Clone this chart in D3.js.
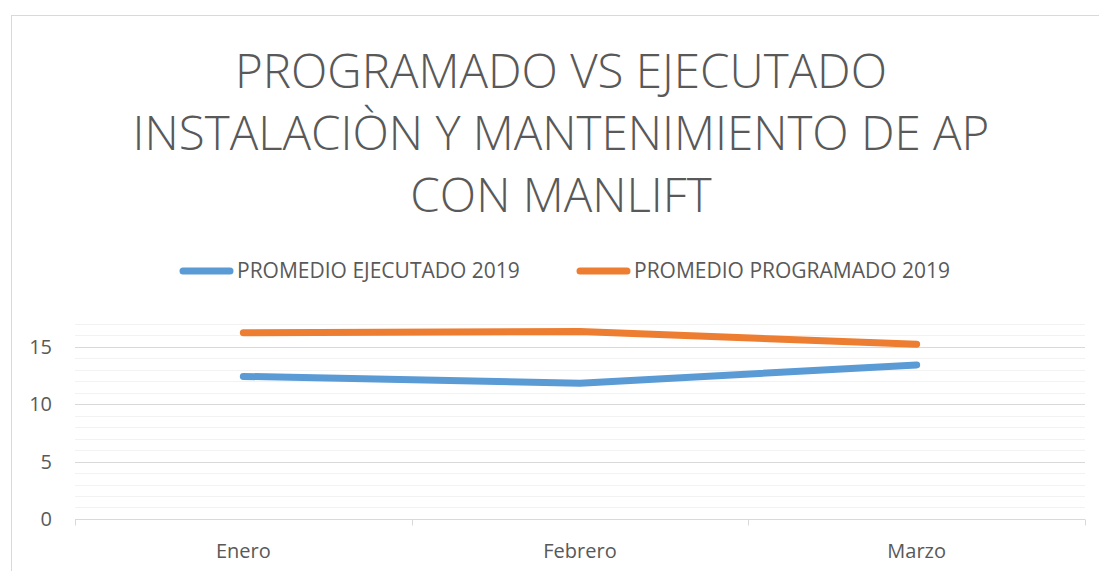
<!DOCTYPE html>
<html>
<head>
<meta charset="utf-8">
<script src="https://cdn.jsdelivr.net/npm/d3@7"></script>
<style>
  body { margin: 0; background: #fff; }
  text { font-family: "Open Sans", "Liberation Sans", sans-serif; fill: #595959; }
</style>
</head>
<body>
<div class="chart-box"></div>
<script>
// datos del grafico
var months = ["Enero", "Febrero", "Marzo"];
var ejecutado = [12.4, 11.8, 13.4];
var programado = [16.2, 16.3, 15.2];
var seriesNames = ["PROMEDIO EJECUTADO 2019", "PROMEDIO PROGRAMADO 2019"];
var titleLines = ["PROGRAMADO VS EJECUTADO", "INSTALACIÒN Y MANTENIMIENTO DE AP", "CON MANLIFT"];
var yTicks = [0, 5, 10, 15];

var width = 1099, height = 571;
var colors = ["#5B9BD5", "#ED7D31"];

var svg = d3.select(".chart-box").append("svg")
    .attr("width", width)
    .attr("height", height);

// marco
svg.append("rect")
    .attr("x", 11.5).attr("y", 15.5)
    .attr("width", 1100).attr("height", 600)
    .attr("fill", "none")
    .attr("stroke", "#d9d9d9");

// titulo
svg.append("g").selectAll("text")
  .data(titleLines)
  .enter().append("text")
    .attr("x", 561)
    .attr("y", function(d, i) { return 88 + i * 62; })
    .attr("text-anchor", "middle")
    .style("font-size", "47.5px")
    .style("font-weight", 300)
    .text(function(d) { return d; });

var x = d3.scaleBand().domain(months).range([75, 1085]);
var y = d3.scaleLinear().domain([0, 17]).range([519, 323.5]);

// lineas de cuadricula
var grid = svg.append("g");
grid.selectAll("line.minor")
  .data(d3.range(1, 18).filter(function(v) { return v % 5; }))
  .enter().append("line")
    .attr("x1", 75).attr("x2", 1085)
    .attr("y1", function(d) { return Math.round(y(d)) + 0.5; })
    .attr("y2", function(d) { return Math.round(y(d)) + 0.5; })
    .attr("stroke", "#f2f2f2");
grid.selectAll("line.major")
  .data(yTicks.slice(1))
  .enter().append("line")
    .attr("x1", 75).attr("x2", 1085)
    .attr("y1", function(d) { return Math.round(y(d)) + 0.5; })
    .attr("y2", function(d) { return Math.round(y(d)) + 0.5; })
    .attr("stroke", "#d9d9d9");

// eje x
var xAxis = svg.append("g")
    .attr("transform", "translate(0," + (Math.round(y(0)) + 0.5) + ")");
xAxis.append("line")
    .attr("x1", 75).attr("x2", 1085)
    .attr("stroke", "#d9d9d9");
xAxis.selectAll("line.tick")
  .data([75].concat(months.map(function(m) { return x(m) + x.bandwidth(); })))
  .enter().append("line")
    .attr("x1", function(d) { return Math.round(d) + 0.5; })
    .attr("x2", function(d) { return Math.round(d) + 0.5; })
    .attr("y1", 0).attr("y2", 6)
    .attr("stroke", "#d9d9d9");
xAxis.selectAll("text")
  .data(months)
  .enter().append("text")
    .attr("x", function(d) { return x(d) + x.bandwidth() / 2; })
    .attr("y", 38)
    .attr("text-anchor", "middle")
    .style("font-size", "20px")
    .text(function(d) { return d; });

// eje y
svg.append("g").selectAll("text")
  .data(yTicks)
  .enter().append("text")
    .attr("x", 52)
    .attr("y", function(d) { return y(d) + 7; })
    .attr("text-anchor", "end")
    .style("font-size", "20px")
    .text(function(d) { return d; });

// series
var line = d3.line()
    .x(function(d, i) { return x(months[i]) + x.bandwidth() / 2; })
    .y(function(d) { return y(d); });

[ejecutado, programado].forEach(function(s, i) {
  svg.append("path")
      .datum(s)
      .attr("d", line)
      .attr("fill", "none")
      .attr("stroke", colors[i])
      .attr("stroke-width", 7)
      .attr("stroke-linecap", "round")
      .attr("stroke-linejoin", "round");
});

// leyenda
var legendX = [180, 577];
var legend = svg.append("g").selectAll("g")
  .data(seriesNames)
  .enter().append("g")
    .attr("transform", function(d, i) { return "translate(" + legendX[i] + ",271)"; });
legend.append("line")
    .attr("x1", 3).attr("x2", 50)
    .attr("stroke", function(d, i) { return colors[i]; })
    .attr("stroke-width", 7)
    .attr("stroke-linecap", "round");
legend.append("text")
    .attr("x", 57)
    .attr("y", 7)
    .style("font-size", "21px")
    .text(function(d) { return d; });
</script>
</body>
</html>
